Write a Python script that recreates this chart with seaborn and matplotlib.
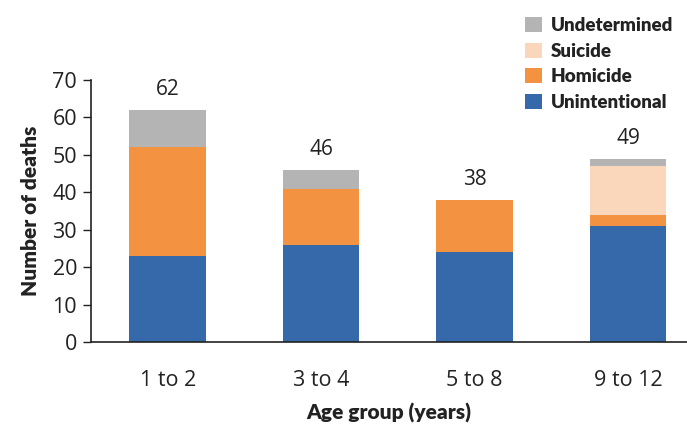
import numpy as np
import pandas as pd
import seaborn as sns
import matplotlib.pyplot as plt
from matplotlib.patches import Patch

age_groups = ['1 to 2', '3 to 4', '5 to 8', '9 to 12']
unintentional = [23, 26, 24, 31]
homicide = [29, 15, 14, 3]
suicide = [0, 0, 0, 13]
undetermined = [10, 5, 0, 2]

categories = ['Unintentional', 'Homicide', 'Suicide', 'Undetermined']
colors = {'Unintentional': '#3569a9', 'Homicide': '#f39341',
          'Suicide': '#fad6bb', 'Undetermined': '#b4b4b4'}

sns.set_theme(style='white')
plt.rcParams['font.family'] = ['Open Sans', 'DejaVu Sans']
bold_font = ['Lato', 'DejaVu Sans']

df = pd.DataFrame({'age': age_groups, 'Unintentional': unintentional,
                   'Homicide': homicide, 'Suicide': suicide,
                   'Undetermined': undetermined})
cum = df[categories].cumsum(axis=1)

fig = plt.figure(figsize=(6.87, 4.25), dpi=100)
ax = fig.add_axes([0.1325, 0.1953, 0.8675, 0.6165])

# draw cumulative totals, tallest first, so lower layers sit on top
for cat in reversed(categories):
    sns.barplot(x=df['age'], y=cum[cat], color=colors[cat], width=0.5,
                saturation=1, ax=ax, linewidth=0, order=age_groups)

totals = cum['Undetermined']
for i, t in enumerate(totals):
    ax.text(i, t + 2.6, str(t), ha='center', va='bottom', fontsize=15, color='#222222')

ax.set_ylim(0, 70)
ax.set_xlim(-0.5, 3.385)
ax.set_yticks(range(0, 71, 10))
ax.tick_params(axis='y', which='both', left=True, length=6, width=1, color='#222222',
               labelsize=15.5, labelcolor='#222222', pad=4)
ax.tick_params(axis='x', bottom=False, labelsize=15.5, labelcolor='#222222', pad=14)
for s in ['top', 'right']:
    ax.spines[s].set_visible(False)
for s in ['left', 'bottom']:
    ax.spines[s].set_color('#222222')
    ax.spines[s].set_linewidth(1.2)

ax.set_ylabel('Number of deaths', fontsize=15, fontweight='heavy', color='#222222',
              labelpad=9, family=bold_font)
ax.set_xlabel('Age group (years)', fontsize=15, fontweight='heavy', color='#222222',
              labelpad=9, family=bold_font)

handles = [Patch(facecolor=colors[c], edgecolor='none') for c in reversed(categories)]
leg = ax.legend(handles, list(reversed(categories)), loc='upper left',
                bbox_to_anchor=(0.70, 1.305), frameon=False,
                handlelength=0.88, handleheight=0.88, handletextpad=0.5,
                labelspacing=0.45, prop={'weight': 'heavy', 'size': 13.5, 'family': bold_font})
for t in leg.get_texts():
    t.set_color('#222222')

fig.savefig('out.png', dpi=100)
